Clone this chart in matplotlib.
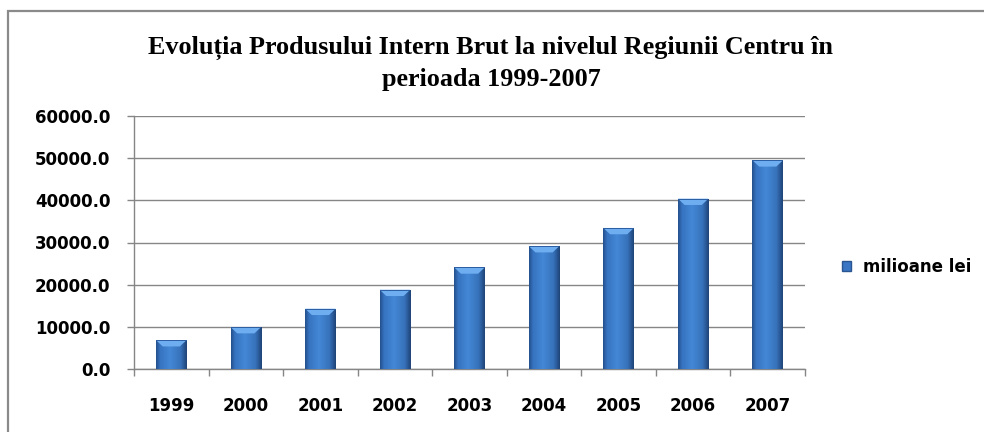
import numpy as np
import matplotlib
matplotlib.use('Agg')
import matplotlib.pyplot as plt
from matplotlib.patches import Rectangle, Polygon, Patch
from matplotlib.colors import LinearSegmentedColormap

# Date: PIB Regiunea Centru (milioane lei)
years = ['1999', '2000', '2001', '2002', '2003', '2004', '2005', '2006', '2007']
values = [6850, 9950, 14300, 18800, 24100, 29150, 33450, 40400, 49500]
series_name = 'milioane lei'
title = 'Evoluția Produsului Intern Brut la nivelul Regiunii Centru în\nperioada 1999-2007'

fig = plt.figure(figsize=(9.84, 4.32), dpi=100)
ax = fig.add_axes([134/984, 1 - 369/432, (805 - 134)/984, (369 - 116)/432])

x = np.arange(len(years))
bar_w = 0.41
bars = ax.bar(x, values, width=bar_w, color='#3b78c2', zorder=2)

# cylinder-like shading for the bars
body = LinearSegmentedColormap.from_list('body', [
    (0.0, '#24508c'), (0.12, '#3672bf'), (0.45, '#4488d6'),
    (0.8, '#3772bb'), (1.0, '#1f4478')])
prof = np.linspace(0, 1, 64)[None, :]
for b in bars:
    x0, w, h = b.get_x(), b.get_width(), b.get_height()
    im = ax.imshow(prof, cmap=body, extent=(x0, x0 + w, 0, h),
                   aspect='auto', origin='lower', zorder=3)
    im.set_clip_path(b)
    dh = 1500
    dw = w * 0.22
    ax.add_patch(Polygon([(x0, h), (x0 + w, h), (x0 + w - dw, h - dh), (x0 + dw, h - dh)],
                         closed=True, facecolor='#6eadf0', edgecolor='none', zorder=4))
    ax.add_patch(Rectangle((x0, h - 220), w, 220, facecolor='#2c5fa3',
                           edgecolor='none', zorder=4))

ax.set_xlim(-0.5, len(years) - 0.5)
ax.set_ylim(0, 60000)
ax.set_yticks(np.arange(0, 60001, 10000))
ax.set_yticklabels([f'{v:.1f}' for v in np.arange(0, 60001, 10000)])
ax.set_xticks(x)
ax.set_xticklabels(years)
ax.set_xticks(np.arange(-0.5, len(years)), minor=True)

ax.grid(axis='y', color='#868686', linewidth=1.0, zorder=0)
ax.set_axisbelow(True)
for s in ['top', 'right']:
    ax.spines[s].set_visible(False)
for s in ['left', 'bottom']:
    ax.spines[s].set_color('#868686')
    ax.spines[s].set_linewidth(1.0)

ax.tick_params(axis='y', direction='out', length=5, width=1, color='#868686', pad=12)
ax.tick_params(axis='x', which='major', length=0, pad=20)
ax.tick_params(axis='x', which='minor', direction='out', length=5, width=1, color='#868686')
for lbl in ax.get_xticklabels() + ax.get_yticklabels():
    lbl.set_fontsize(12)
    lbl.set_fontweight('bold')
    lbl.set_family('DejaVu Sans')

fig.text(491/984, 1 - 63/432, title, ha='center', va='center',
         family='Liberation Serif', fontweight='bold', fontsize=18.8, linespacing=1.45)

handle = Patch(facecolor='#3a76c4', edgecolor='#2a5590', label=series_name)
fig.legend(handles=[handle], loc='center left', bbox_to_anchor=(827/984, 1 - 267/432),
           frameon=False, handlelength=0.55, handleheight=0.55, handletextpad=0.7,
           prop={'family': 'DejaVu Sans', 'weight': 'bold', 'size': 12})

# chart area border (cropped on the right and bottom)
fig.add_artist(Rectangle((8/984, -0.1), 1.1, 1.1 - 11/432, transform=fig.transFigure,
                         facecolor='none', edgecolor='#8a8a8a', linewidth=1.6))

fig.savefig('out.png', dpi=100)
